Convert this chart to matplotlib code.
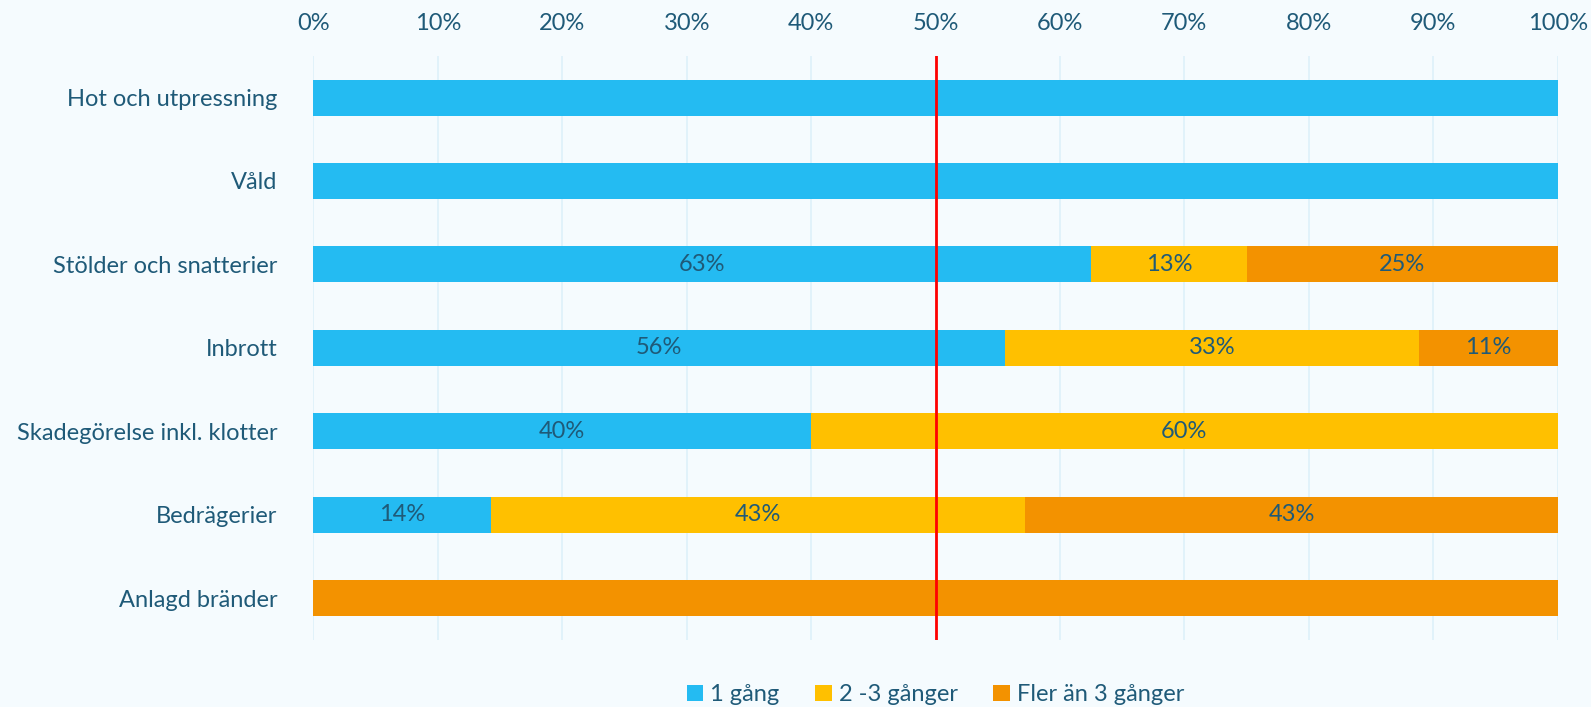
import numpy as np
import matplotlib.pyplot as plt

plt.rcParams['font.family'] = ['Lato', 'DejaVu Sans']

categories = ["Hot och utpressning", "Våld", "Stölder och snatterier", "Inbrott",
              "Skadegörelse inkl. klotter", "Bedrägerier", "Anlagd bränder"]
series_names = ["1 gång", "2 -3 gånger", "Fler än 3 gånger"]
once = [100, 100, 62.5, 55.6, 40, 14.3, 0]
two_three = [0, 0, 12.5, 33.3, 60, 42.9, 0]
more = [0, 0, 25, 11.1, 0, 42.9, 100]
# which rows show data labels
show_labels = [False, False, True, True, True, True, False]

colors = ["#24BBF2", "#FFC000", "#F39200"]
text_col = "#1F5A78"
bg = "#F5FBFE"
fs = 17

fig = plt.figure(figsize=(15.91, 7.07), dpi=100, facecolor=bg)
ax = fig.add_axes([0.197, 0.095, 0.782, 0.826], facecolor=bg)

y = np.arange(len(categories))
left = np.zeros(len(categories))
for name, vals, c in zip(series_names, [once, two_three, more], colors):
    vals = np.array(vals, dtype=float)
    ax.barh(y, vals, left=left, height=0.43, color=c, label=name, zorder=2)
    for i, (v, l) in enumerate(zip(vals, left)):
        if show_labels[i] and v > 0:
            ax.text(l + v / 2, y[i], f"{int(v + 0.5)}%", ha='center', va='center',
                    fontsize=fs, color=text_col, zorder=3)
    left += vals

ax.set_xlim(0, 100)
ax.set_ylim(len(categories) - 0.5, -0.5)
ax.set_yticks(y)
ax.set_yticklabels(categories, fontsize=fs, color=text_col)
ax.set_xticks(np.arange(0, 101, 10))
ax.set_xticklabels([f"{t}%" for t in range(0, 101, 10)], fontsize=fs, color=text_col)
ax.xaxis.tick_top()
ax.tick_params(axis='both', length=0)
ax.tick_params(axis='x', pad=16)
ax.tick_params(axis='y', pad=26)
ax.grid(axis='x', color="#DDF1FA", linewidth=1.2, zorder=0)
for s in ax.spines.values():
    s.set_visible(False)

ax.axvline(50, color="#FF0000", linewidth=2, zorder=4)

ax.legend(loc='upper center', bbox_to_anchor=(0.5, -0.04), ncol=3, frameon=False,
          fontsize=fs, handlelength=0.7, handleheight=0.7, handletextpad=0.3,
          columnspacing=1.5, labelcolor=text_col)

fig.savefig("out.png", dpi=100, facecolor=bg)
